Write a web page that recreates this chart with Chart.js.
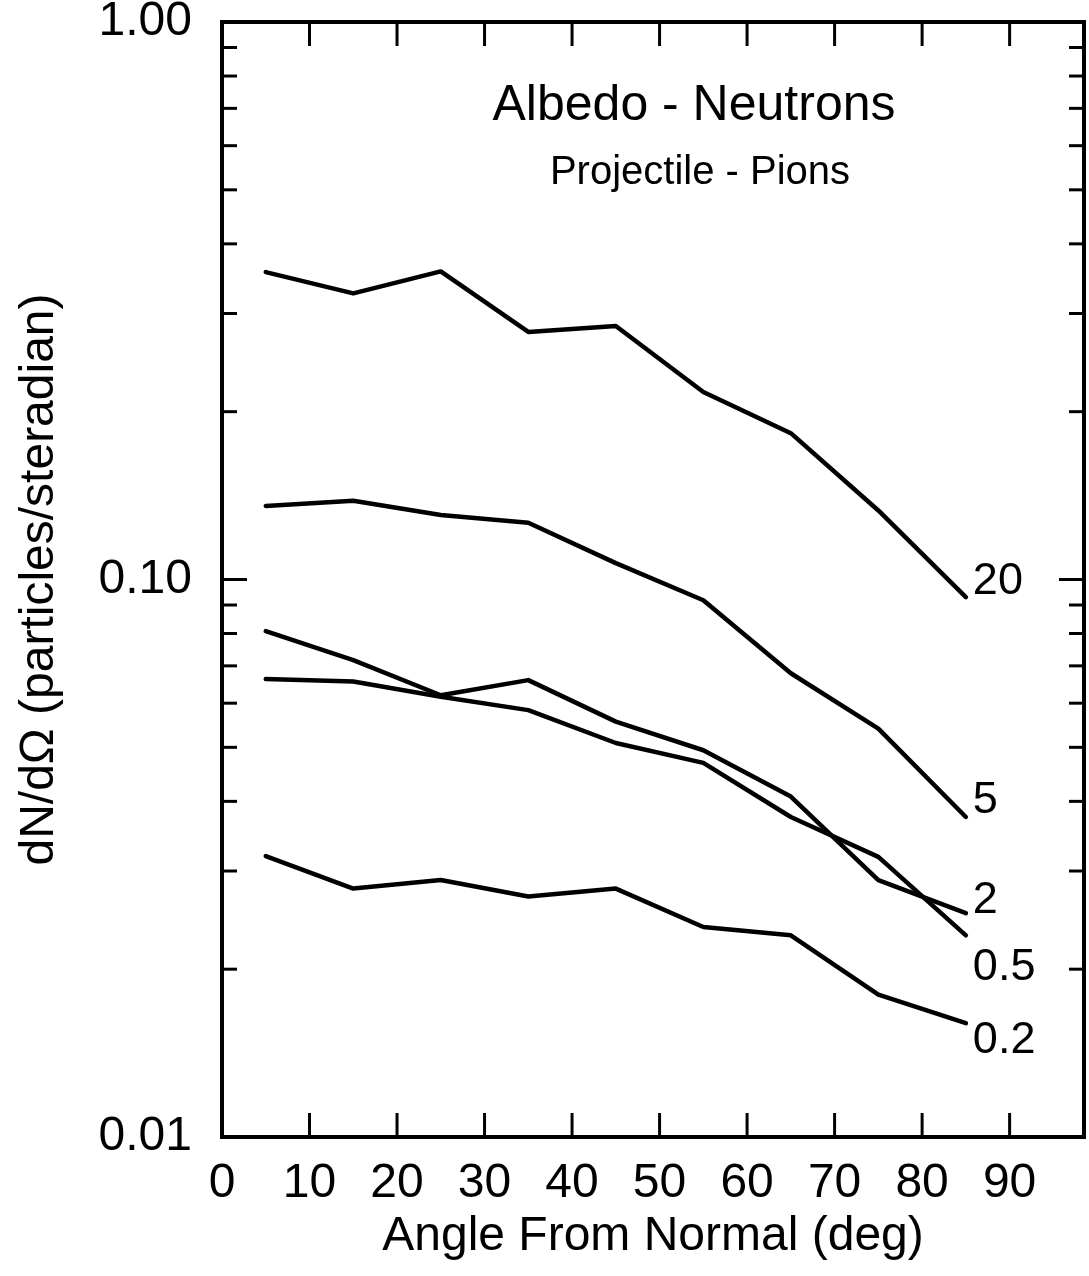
<!DOCTYPE html>
<html>
<head>
<meta charset="utf-8">
<script src="https://cdn.jsdelivr.net/npm/chart.js@4.4.1/dist/chart.umd.min.js"></script>
<style>
  html, body { margin: 0; padding: 0; background: #fff; }
  #wrap { width: 1089px; height: 1276px; }
</style>
</head>
<body>
<div id="wrap"><canvas id="albedoChart" width="1089" height="1276"></canvas></div>
<script>
// angle bins (deg) and dN/dOmega per projectile energy curve
const angles = [5, 15, 25, 35, 45, 55, 65, 75, 85];
const e20 = [0.356, 0.326, 0.357, 0.278, 0.285, 0.217, 0.183, 0.133, 0.093];
const e5 = [0.1355, 0.1384, 0.1305, 0.1264, 0.107, 0.0918, 0.0679, 0.054, 0.0375];
const e2 = [0.0808, 0.0717, 0.0620, 0.0660, 0.0556, 0.0494, 0.0408, 0.0289, 0.0252];
const e05 = [0.0663, 0.0656, 0.0616, 0.0583, 0.0509, 0.0469, 0.0375, 0.0318, 0.0230];
const e02 = [0.0319, 0.0279, 0.0289, 0.0270, 0.0279, 0.0238, 0.0230, 0.0180, 0.0160];
const curveLabels = ['20', '5', '2', '0.5', '0.2'];

const xTicks = [0, 10, 20, 30, 40, 50, 60, 70, 80, 90];
const yTicks = [0.01, 0.1, 1];
const yMinorTicks = [0.02, 0.03, 0.04, 0.05, 0.06, 0.07, 0.08, 0.09,
                     0.2, 0.3, 0.4, 0.5, 0.6, 0.7, 0.8, 0.9];

const FONT = "'Liberation Sans', Arial, Helvetica, sans-serif";

const series = [e20, e5, e2, e05, e02];
const datasets = series.map((vals, i) => ({
    label: curveLabels[i],
    data: vals.map((v, j) => ({ x: angles[j], y: v })),
    borderColor: '#000',
    borderWidth: 4.5,
    borderJoinStyle: 'round',
    borderCapStyle: 'round',
    pointRadius: 0,
    tension: 0,
    fill: false
}));

// frame, inward ticks, curve labels and the inset title
const decorations = {
    id: 'decorations',
    afterDatasetsDraw(chart) {
        const { ctx, chartArea: a, scales: { x, y } } = chart;
        const seg = (x1, y1, x2, y2) => {
            ctx.beginPath();
            ctx.moveTo(x1, y1);
            ctx.lineTo(x2, y2);
            ctx.stroke();
        };
        ctx.save();
        ctx.strokeStyle = '#000';
        ctx.lineWidth = 4;
        ctx.strokeRect(a.left, a.top, a.right - a.left, a.bottom - a.top);

        ctx.lineWidth = 3;
        xTicks.forEach(v => {
            if (v === 0) return;
            const px = x.getPixelForValue(v);
            seg(px, a.bottom, px, a.bottom - 24);
            seg(px, a.top, px, a.top + 24);
        });
        yTicks.forEach(v => {
            const py = y.getPixelForValue(v);
            seg(a.left, py, a.left + 25, py);
            seg(a.right, py, a.right - 25, py);
        });
        yMinorTicks.forEach(v => {
            const py = y.getPixelForValue(v);
            seg(a.left, py, a.left + 15, py);
            seg(a.right, py, a.right - 15, py);
        });

        // labels at the end of each curve
        const dy = [-15, -16, -13, 32, 17];
        ctx.fillStyle = '#000';
        ctx.font = '45px ' + FONT;
        ctx.textAlign = 'left';
        ctx.textBaseline = 'middle';
        chart.data.datasets.forEach((ds, i) => {
            const pts = chart.getDatasetMeta(i).data;
            const last = pts[pts.length - 1];
            ctx.fillText(ds.label, last.x + 7, last.y + dy[i]);
        });

        // inset title
        ctx.textAlign = 'center';
        ctx.textBaseline = 'alphabetic';
        ctx.font = '50px ' + FONT;
        ctx.fillText('Albedo - Neutrons', 694, 120);
        ctx.font = '40px ' + FONT;
        ctx.fillText('Projectile - Pions', 700, 184);
        ctx.restore();
    }
};

new Chart(document.getElementById('albedoChart').getContext('2d'), {
    type: 'line',
    data: { datasets },
    options: {
        responsive: false,
        animation: false,
        devicePixelRatio: 1,
        layout: { padding: { top: 22, right: 5, left: 0, bottom: 0 } },
        plugins: {
            legend: { display: false },
            tooltip: { enabled: false }
        },
        scales: {
            x: {
                type: 'linear',
                position: 'bottom',
                min: 0,
                max: 98.5,
                afterBuildTicks: s => { s.ticks = xTicks.map(v => ({ value: v })); },
                afterFit: s => {
                    s.height = 139;
                    s.paddingLeft = 0;
                    s.paddingRight = 0;
                },
                grid: { display: false, drawTicks: false },
                border: { display: false },
                ticks: {
                    autoSkip: false,
                    maxRotation: 0,
                    padding: 18,
                    color: '#000',
                    font: { family: FONT, size: 48 },
                    callback: v => String(v)
                },
                title: {
                    display: true,
                    text: 'Angle From Normal (deg)',
                    color: '#000',
                    font: { family: FONT, size: 48 },
                    padding: { top: 0, bottom: 10 }
                }
            },
            y: {
                type: 'logarithmic',
                position: 'left',
                min: 0.01,
                max: 1,
                afterBuildTicks: s => { s.ticks = yTicks.map(v => ({ value: v })); },
                afterFit: s => {
                    s.width = 222;
                    s.paddingTop = 0;
                    s.paddingBottom = 0;
                },
                grid: { display: false, drawTicks: false },
                border: { display: false },
                ticks: {
                    autoSkip: false,
                    padding: 30,
                    color: '#000',
                    font: { family: FONT, size: 48 },
                    callback: v => Number(v).toFixed(2)
                },
                title: {
                    display: true,
                    text: 'dN/dΩ (particles/steradian)',
                    color: '#000',
                    font: { family: FONT, size: 48 },
                    padding: { top: 11, bottom: 0 }
                }
            }
        }
    },
    plugins: [decorations]
});
</script>
</body>
</html>
